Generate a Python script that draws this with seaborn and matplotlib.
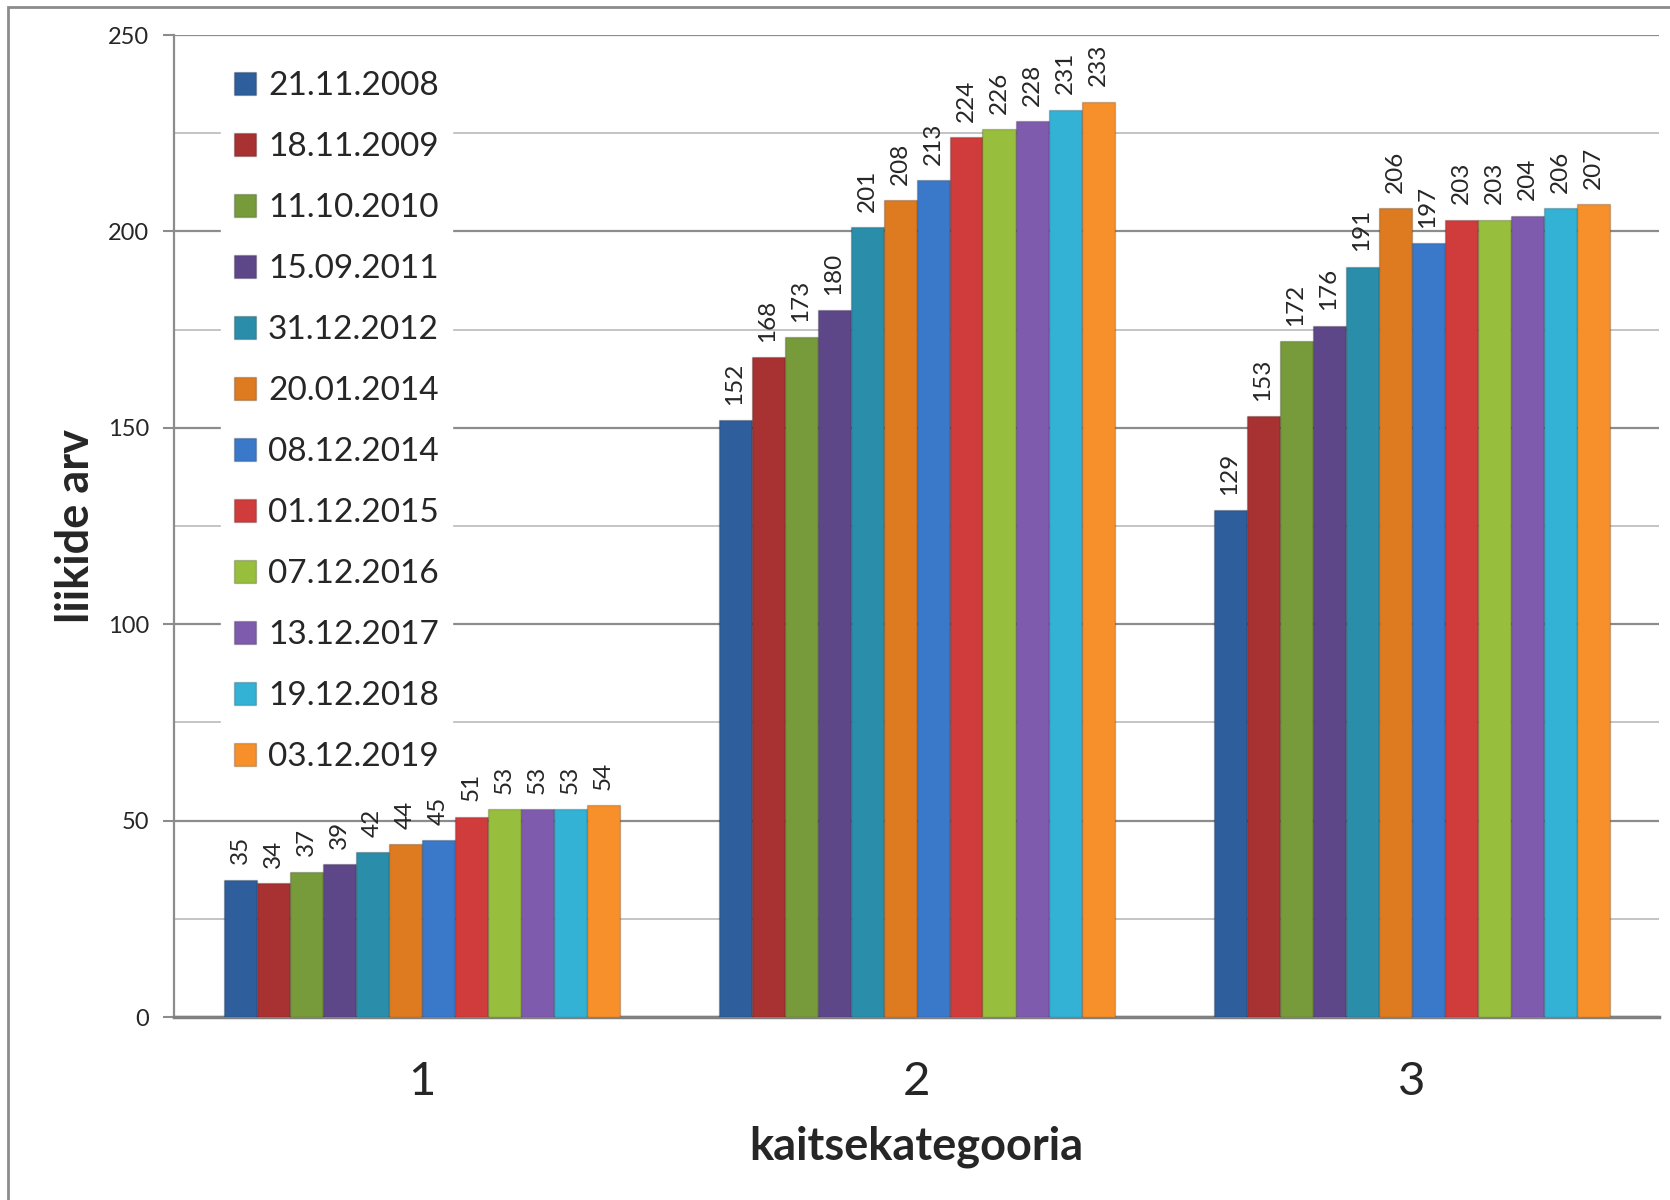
import pandas as pd
import matplotlib.pyplot as plt
import matplotlib.patches as mpatches
import seaborn as sns

# Andmed: kaitsekategooriad ja liikide arv igal kuupäeval
kategooriad = ['1', '2', '3']
kuupaevad = ['21.11.2008', '18.11.2009', '11.10.2010', '15.09.2011', '31.12.2012', '20.01.2014',
             '08.12.2014', '01.12.2015', '07.12.2016', '13.12.2017', '19.12.2018', '03.12.2019']
kat1 = [35, 34, 37, 39, 42, 44, 45, 51, 53, 53, 53, 54]
kat2 = [152, 168, 173, 180, 201, 208, 213, 224, 226, 228, 231, 233]
kat3 = [129, 153, 172, 176, 191, 206, 197, 203, 203, 204, 206, 207]

varvid = ['#2E5E9C', '#A83131', '#779A3A', '#5E4789', '#2A8EAA', '#DE7A20',
          '#3A78CA', '#D03C3C', '#98BE3E', '#7F5BAE', '#34B2D6', '#F7902A']

read = []
for kat, vaartused in zip(kategooriad, [kat1, kat2, kat3]):
    for kp, v in zip(kuupaevad, vaartused):
        read.append({'kaitsekategooria': kat, 'kuupaev': kp, 'arv': v})
df = pd.DataFrame(read)

sns.set_style('white')
plt.rcParams['font.family'] = ['Lato', 'DejaVu Sans']

fig = plt.figure(figsize=(16.7, 12), dpi=100)
ax = fig.add_axes([174 / 1670, 1 - 1017 / 1200, (1659 - 174) / 1670, (1017 - 35) / 1200])

sns.barplot(data=df, x='kaitsekategooria', y='arv', hue='kuupaev', hue_order=kuupaevad,
            order=kategooriad, palette=varvid, width=0.8, gap=0, legend=False,
            saturation=1, ax=ax, zorder=3)

# tulpade servad veidi tumedamad
for cont in ax.containers:
    for bar in cont:
        bar.set_edgecolor('#00000033')
        bar.set_linewidth(1)
    ax.bar_label(cont, rotation=90, padding=11, fontsize=17.5)

ax.set_xlim(-0.5, 2.5)
ax.set_ylim(0, 250)
ax.set_yticks(range(0, 251, 50))
ax.set_yticks(range(25, 250, 50), minor=True)
ax.grid(axis='y', which='major', color='#8c8c8c', linewidth=1.6, zorder=0)
ax.grid(axis='y', which='minor', color='#c4c4c4', linewidth=1.4, zorder=0)
ax.grid(axis='x', visible=False)
ax.set_axisbelow(True)

ax.tick_params(axis='y', which='major', labelsize=17, length=8, width=1.5, color='#8c8c8c',
               direction='out', left=True, pad=10)
ax.tick_params(axis='y', which='minor', length=0)
ax.tick_params(axis='x', labelsize=34, length=0, pad=32)

for s in ['top', 'right']:
    ax.spines[s].set_visible(False)
ax.spines['left'].set_color('#8c8c8c')
ax.spines['left'].set_linewidth(1.6)
ax.spines['bottom'].set_color('#808080')
ax.spines['bottom'].set_linewidth(2.5)

ax.set_xlabel('kaitsekategooria', fontsize=32.5, fontweight='bold', labelpad=16)
ax.set_ylabel('liikide arv', fontsize=32.5, fontweight='bold', labelpad=8)

leg = ax.legend(ax.containers, kuupaevad, loc='upper left',
                bbox_to_anchor=(221 / 1670, 1 - 58 / 1200), bbox_transform=fig.transFigure,
                fontsize=24, frameon=True, fancybox=False, framealpha=1, edgecolor='white',
                labelspacing=0.93, handlelength=0.66, handleheight=0.66, handletextpad=0.35,
                borderpad=0.4, borderaxespad=0)
leg.set_zorder(5)

# joonise raam
fig.patches.append(mpatches.Rectangle((8 / 1670, -0.1), 1.2, 1 - 7 / 1200 + 0.1,
                                      transform=fig.transFigure, fill=False,
                                      edgecolor='#8c8c8c', linewidth=2))

fig.savefig('out.png', dpi=100)
